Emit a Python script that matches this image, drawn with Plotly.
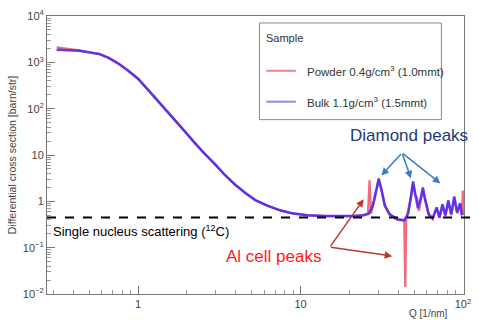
import plotly.graph_objects as go

# ---- data ----
q_blue = [0.316, 0.38, 0.435, 0.50, 0.574, 0.66, 0.76, 0.87, 1.0, 1.15, 1.32, 1.58, 1.87, 2.17, 2.53, 2.95,
          3.4, 3.95, 4.6, 5.3, 6.3, 7.5, 8.9, 11.0, 14.5, 19.0,
          21.1, 24.3, 26.4, 27.9, 29.1, 30.3, 31.6, 33.0, 35.3, 39.5, 43.5, 46.0, 47.9, 49.3, 50.7, 52.8,
          55.1, 56.6, 58.2, 61.5, 65.0, 68.8, 71.6, 74.7, 77.9, 81.2, 84.7, 88.3, 92.0, 95.9, 98.6]
s_blue = [1860, 1810, 1770, 1640, 1520, 1250, 930, 655, 442, 257, 148, 74, 38, 20, 11.3, 6.6,
          3.8, 2.3, 1.49, 1.05, 0.80, 0.64, 0.55, 0.50, 0.48, 0.48,
          0.48, 0.50, 0.55, 0.82, 1.72, 3.1, 1.72, 0.82, 0.53, 0.41, 0.39, 0.55, 1.35, 2.7, 1.5, 0.71,
          1.22, 2.0, 1.16, 0.53, 0.43, 0.74, 0.45, 0.86, 0.50, 1.05, 0.53, 1.28, 0.58, 0.91, 0.50]

q_red = [0.316, 0.38, 0.435, 0.50, 0.574, 0.66, 0.76, 0.87, 1.0, 1.15, 1.32, 1.58, 1.87, 2.17, 2.53, 2.95,
         3.4, 3.95, 4.6, 5.3, 6.3, 7.5, 8.9, 11.0, 14.5, 19.0,
         21.1, 24.3, 26.0, 26.6, 27.2, 27.9, 29.1, 30.3, 31.6, 33.0, 35.3, 39.5, 43.5, 44.1, 44.7, 47.9,
         49.3, 50.7, 52.1, 53.5, 56.6, 58.2, 61.5, 65.0, 68.8, 71.6, 74.7, 77.9, 81.2, 84.7, 88.3, 92.0,
         95.9, 98.6, 99.6, 100.5]
s_red = [2100, 1950, 1800, 1660, 1530, 1260, 935, 660, 445, 258, 149, 75, 38, 20, 11.3, 6.6,
         3.8, 2.3, 1.49, 1.05, 0.80, 0.64, 0.55, 0.50, 0.48, 0.48,
         0.48, 0.50, 0.53, 2.83, 0.55, 0.80, 1.6, 2.8, 1.6, 0.80, 0.52, 0.40, 0.39, 0.0142, 0.42, 1.2,
         2.4, 1.4, 1.22, 0.62, 1.8, 1.1, 0.50, 0.42, 0.70, 0.44, 0.80, 0.48, 0.95, 0.50, 1.15, 0.55,
         0.85, 0.50, 1.72, 0.50]

single_nucleus = 0.45

y_tickvals = [1e-2, 1e-1, 1, 10, 1e2, 1e3, 1e4]
y_ticktext = ["10<sup>−2</sup>", "10<sup>−1</sup>", "1", "10", "10<sup>2</sup>", "10<sup>3</sup>", "10<sup>4</sup>"]
x_tickvals = [1, 10, 100]
x_ticktext = ["1", "10", "10<sup>2</sup>"]

legend_title = "Sample"
name_red = "Powder 0.4g/cm<sup>3</sup> (1.0mmt)"
name_blue = "Bulk 1.1g/cm<sup>3</sup> (1.5mmt)"

FONT = "Liberation Sans, Arial, sans-serif"
RED = "rgba(240,80,105,0.85)"
BLUE = "rgba(75,40,240,0.88)"

fig = go.Figure()
fig.add_trace(go.Scatter(x=q_red, y=s_red, mode="lines", name=name_red,
                         line=dict(color=RED, width=2.3), showlegend=False))
fig.add_trace(go.Scatter(x=q_blue, y=s_blue, mode="lines", name=name_blue,
                         line=dict(color=BLUE, width=2.5), showlegend=False))

W, H = 479, 320
L, R, T, B = 47, 8, 15, 26
pw, ph = W - L - R, H - T - B


def px(x):
    return (x - L) / pw


def py(y):
    return (H - B - y) / ph


minor_x = [m * 10 ** e for e in range(-1, 2) for m in range(2, 10)]
minor_y = [m * 10 ** e for e in range(-2, 4) for m in range(2, 10)]

fig.update_xaxes(type="log", range=[-0.56, 2.006], tickvals=x_tickvals, ticktext=x_ticktext,
                 ticks="inside", ticklen=8, tickcolor="#777", showline=True, linecolor="#777",
                 mirror=True, showgrid=False, zeroline=False,
                 tickfont=dict(size=11, color="#444", family=FONT),
                 minor=dict(tickvals=minor_x, ticks="inside", ticklen=4, tickcolor="#999"))
fig.update_yaxes(type="log", range=[-2, 4], tickvals=y_tickvals, ticktext=y_ticktext,
                 ticks="inside", ticklen=8, tickcolor="#777", showline=True, linecolor="#777",
                 mirror=True, showgrid=False, zeroline=False,
                 tickfont=dict(size=11, color="#444", family=FONT),
                 title=dict(text="Differential cross section [barn/str]", standoff=4,
                            font=dict(size=10.5, color="#444", family=FONT)),
                 minor=dict(tickvals=minor_y, ticks="inside", ticklen=4, tickcolor="#999"))

shapes = []
# single nucleus scattering dashed line
shapes.append(dict(type="line", xref="paper", yref="y", x0=0, x1=px(479), y0=single_nucleus,
                   y1=single_nucleus, line=dict(color="black", width=2, dash="dash")))
# legend box
shapes.append(dict(type="rect", xref="paper", yref="paper", x0=px(263), x1=px(448), y0=py(119), y1=py(22),
                   line=dict(color="#888", width=1), fillcolor="white", layer="above"))
shapes.append(dict(type="line", xref="paper", yref="paper", x0=px(270), x1=px(300), y0=py(70), y1=py(70),
                   line=dict(color="rgb(240,130,145)", width=2)))
shapes.append(dict(type="line", xref="paper", yref="paper", x0=px(270), x1=px(300), y0=py(101), y1=py(101),
                   line=dict(color="rgb(145,135,240)", width=2)))

ann = []
ann.append(dict(text=legend_title, xref="paper", yref="paper", x=px(268), y=py(37), xanchor="left",
                yanchor="middle", showarrow=False, font=dict(size=11, color="#333", family=FONT)))
ann.append(dict(text=name_red, xref="paper", yref="paper", x=px(309), y=py(70), xanchor="left",
                yanchor="middle", showarrow=False, font=dict(size=11.5, color="#333", family=FONT)))
ann.append(dict(text=name_blue, xref="paper", yref="paper", x=px(309), y=py(101), xanchor="left",
                yanchor="middle", showarrow=False, font=dict(size=11.5, color="#333", family=FONT)))
ann.append(dict(text="Single nucleus scattering (<sup>12</sup>C)", xref="paper", yref="paper", x=px(51),
                y=py(231), xanchor="left", yanchor="middle", showarrow=False,
                font=dict(size=13, color="black", family=FONT)))
ann.append(dict(text="Diamond peaks", xref="paper", yref="paper", x=px(415), y=py(135), xanchor="center",
                yanchor="middle", showarrow=False, font=dict(size=17, color="#1f3a78", family=FONT)))
ann.append(dict(text="Al cell peaks", xref="paper", yref="paper", x=px(277), y=py(256), xanchor="center",
                yanchor="middle", showarrow=False, font=dict(size=17, color="#ff1a1a", family=FONT)))
ann.append(dict(text="Q [1/nm]", xref="paper", yref="paper", x=px(457), y=py(314), xanchor="right",
                yanchor="middle", showarrow=False, font=dict(size=10, color="#444", family=FONT)))

# arrows
for tx, ty in [(387, 175), (417, 178), (447, 183)]:
    ann.append(dict(text="", xref="paper", yref="paper", x=px(tx), y=py(ty), axref="pixel", ayref="pixel",
                    ax=408 - tx, ay=152 - ty, showarrow=True, arrowhead=2, arrowsize=1, arrowwidth=1.5,
                    arrowcolor="#3c7cc4"))
for tx, ty in [(369, 199), (398, 256)]:
    ann.append(dict(text="", xref="paper", yref="paper", x=px(tx), y=py(ty), axref="pixel", ayref="pixel",
                    ax=335 - tx, ay=247 - ty, showarrow=True, arrowhead=2, arrowsize=1, arrowwidth=1.5,
                    arrowcolor="#b8392e"))

fig.update_layout(width=W, height=H, margin=dict(l=L, r=R, t=T, b=B, pad=0),
                  paper_bgcolor="white", plot_bgcolor="white", shapes=shapes, annotations=ann,
                  showlegend=False, font=dict(family=FONT))

fig.write_html("out.html", config={"displayModeBar": False},
               post_script="document.body.style.margin='0';document.body.style.padding='0';"
                           "document.body.style.overflow='hidden';")
